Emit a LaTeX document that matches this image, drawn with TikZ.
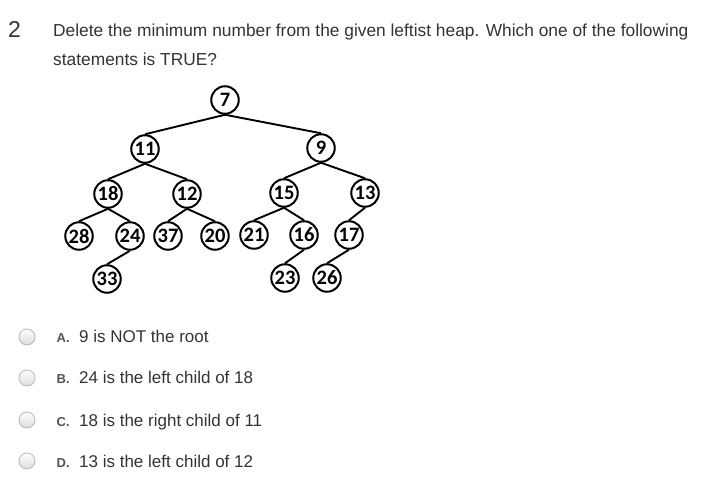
\documentclass[tikz,border=0pt]{standalone}
\usepackage{fontspec}
\setmainfont{Liberation Sans}
\newfontfamily\numfont{Carlito}
\definecolor{txt}{HTML}{333333}
\definecolor{lbl}{HTML}{555555}
\begin{document}
\begin{tikzpicture}[x=1pt,y=-1pt,
  hn/.style={circle,draw=black,line width=2pt,minimum size=27.5pt,inner sep=0pt,font=\numfont\bfseries\fontsize{20.5}{20.5}\selectfont},
  ed/.style={line width=1.9pt},
  radio/.style={circle,draw=black!28,line width=0.8pt,minimum size=16pt,inner sep=0pt,top color=white,bottom color=black!14},
  opt/.style={anchor=base west,inner sep=0pt,text=txt,font=\fontsize{17}{17}\selectfont},
  olbl/.style={anchor=base west,inner sep=0pt,text=lbl,font=\bfseries\fontsize{13}{13}\selectfont}]
\useasboundingbox (0,0) rectangle (707,486);
% question
\node[anchor=base west,inner sep=0pt,text=txt,font=\fontsize{23}{23}\selectfont] (num) at (8,38) {2};
\node[anchor=base west,inner sep=0pt,text=txt,font=\fontsize{17.35}{17.35}\selectfont] (q1) at (53,37) {Delete the minimum number from the given leftist heap. Which one of the following};
\node[anchor=base west,inner sep=0pt,text=txt,font=\fontsize{17.35}{17.35}\selectfont] (q2) at (53,66) {statements is TRUE?};
% heap
\node[hn] (n7) at (225,100) {7};
\node[hn] (n11) at (145,149) {11};
\node[hn] (n9) at (321,148) {9};
\node[hn] (n18) at (108,194) {18};
\node[hn] (n12) at (187,194) {12};
\node[hn] (n15) at (284,193) {15};
\node[hn] (n13) at (365,193) {13};
\node[hn] (n28) at (79,236) {28};
\node[hn] (n24) at (130,236) {24};
\node[hn] (n37) at (168,236) {37};
\node[hn] (n20) at (215,236) {20};
\node[hn] (n21) at (254,235) {21};
\node[hn] (n16) at (304,235) {16};
\node[hn] (n17) at (349,235) {17};
\node[hn] (n33) at (107,279) {33};
\node[hn] (n23) at (285,278) {23};
\node[hn] (n26) at (327,278) {26};
\foreach \a/\b in {n7/n11,n7/n9,n11/n18,n11/n12,n9/n15,n9/n13,n18/n28,n18/n24,n12/n37,n12/n20,n15/n21,n15/n16,n13/n17,n24/n33,n16/n23,n17/n26}
  \draw[ed] (\a.south) -- (\b.north);
% options
\node[radio] (ra) at (27,337) {};
\node[radio] (rb) at (27,378) {};
\node[radio] (rc) at (27,420) {};
\node[radio] (rd) at (27,461) {};
\node[olbl] (la) at (56.5,343) {A.};
\node[olbl] (lb) at (56.5,384) {B.};
\node[olbl] (lc) at (56.5,426) {C.};
\node[olbl] (ld) at (56.5,467) {D.};
\node[opt] (ta) at (79,343) {9 is NOT the root};
\node[opt] (tb) at (79,384) {24 is the left child of 18};
\node[opt] (tc) at (79,426) {18 is the right child of 11};
\node[opt] (td) at (79,467) {13 is the left child of 12};
\end{tikzpicture}
\end{document}
